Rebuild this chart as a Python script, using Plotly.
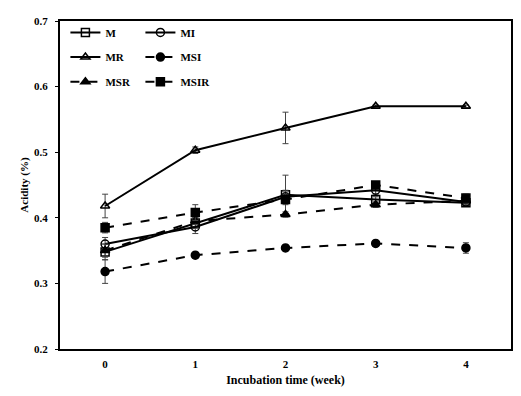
import plotly.graph_objects as go

weeks = [0, 1, 2, 3, 4]
x_ticks = ["0", "1", "2", "3", "4"]
y_ticks = [0.2, 0.3, 0.4, 0.5, 0.6, 0.7]

M = [0.348, 0.392, 0.435, 0.428, 0.423]
M_err = [0.012, 0.008, 0.030, 0.004, 0.005]
MI = [0.360, 0.386, 0.432, 0.442, 0.424]
MI_err = [0.010, 0.010, 0.010, 0.006, 0.004]
MR = [0.418, 0.503, 0.537, 0.570, 0.570]
MR_err = [0.018, 0.005, 0.024, 0.002, 0.002]
MSI = [0.318, 0.343, 0.354, 0.361, 0.354]
MSI_err = [0.018, 0.003, 0.003, 0.003, 0.008]
MSR = [0.350, 0.395, 0.405, 0.420, 0.426]
MSR_err = [0.010, 0.005, 0.004, 0.004, 0.004]
MSIR = [0.385, 0.408, 0.428, 0.450, 0.430]
MSIR_err = [0.008, 0.012, 0.008, 0.004, 0.006]

FONT = "Times New Roman, Liberation Serif, serif"

series = [
    ("M", M, M_err, "square-open", "solid", "legend"),
    ("MI", MI, MI_err, "circle-open", "solid", "legend"),
    ("MR", MR, MR_err, "triangle-up-open", "solid", "legend2"),
    ("MSI", MSI, MSI_err, "circle", "dash", "legend2"),
    ("MSR", MSR, MSR_err, "triangle-up", "dash", "legend3"),
    ("MSIR", MSIR, MSIR_err, "square", "dash", "legend3"),
]

fig = go.Figure()
for name, vals, err, sym, dash, lg in series:
    fig.add_trace(go.Scatter(
        x=weeks, y=vals, name=name, mode="lines+markers",
        line=dict(color="black", width=2, dash=dash),
        marker=dict(symbol=sym, size=8, color="black",
                    line=dict(color="black", width=1.5)),
        error_y=dict(type="data", array=err, visible=True,
                     color="#444", thickness=1, width=3),
        legend=lg,
    ))

leg_common = dict(orientation="h", xanchor="left", yanchor="middle",
                  bgcolor="rgba(0,0,0,0)", entrywidth=30, entrywidthmode="pixels",
                  font=dict(family=FONT, size=11, color="black", weight="bold"),
                  itemwidth=30, tracegroupgap=0)

fig.update_layout(
    width=521, height=396,
    margin=dict(l=52, r=18, t=7, b=55),
    paper_bgcolor="white", plot_bgcolor="white",
    font=dict(family=FONT, size=11, color="black", weight="bold"),
    showlegend=True,
    legend=dict(x=0.012, y=0.965, **leg_common),
    legend2=dict(x=0.012, y=0.89, **leg_common),
    legend3=dict(x=0.012, y=0.815, **leg_common),
    xaxis=dict(
        range=[-0.5, 4.5], tickvals=weeks, ticktext=x_ticks,
        showgrid=False, zeroline=False, showline=True, linecolor="black",
        linewidth=2, mirror=True, ticks="", ticklabelstandoff=4,
        tickfont=dict(family=FONT, size=11, color="black", weight="bold"),
        title=dict(text="Incubation time (week)", standoff=6,
                   font=dict(family=FONT, size=12, color="black", weight="bold")),
    ),
    yaxis=dict(
        range=[0.2, 0.7], tickvals=y_ticks, tickformat=".1f",
        showgrid=False, zeroline=False, showline=True, linecolor="black",
        linewidth=2, mirror=True, ticks="outside", ticklen=3, tickwidth=1,
        tickcolor="black", ticklabelstandoff=5,
        tickfont=dict(family=FONT, size=11, color="black", weight="bold"),
        title=dict(text="Acidity (%)", standoff=3,
                   font=dict(family=FONT, size=11, color="black", weight="bold")),
    ),
)

fig.write_html("out.html")
